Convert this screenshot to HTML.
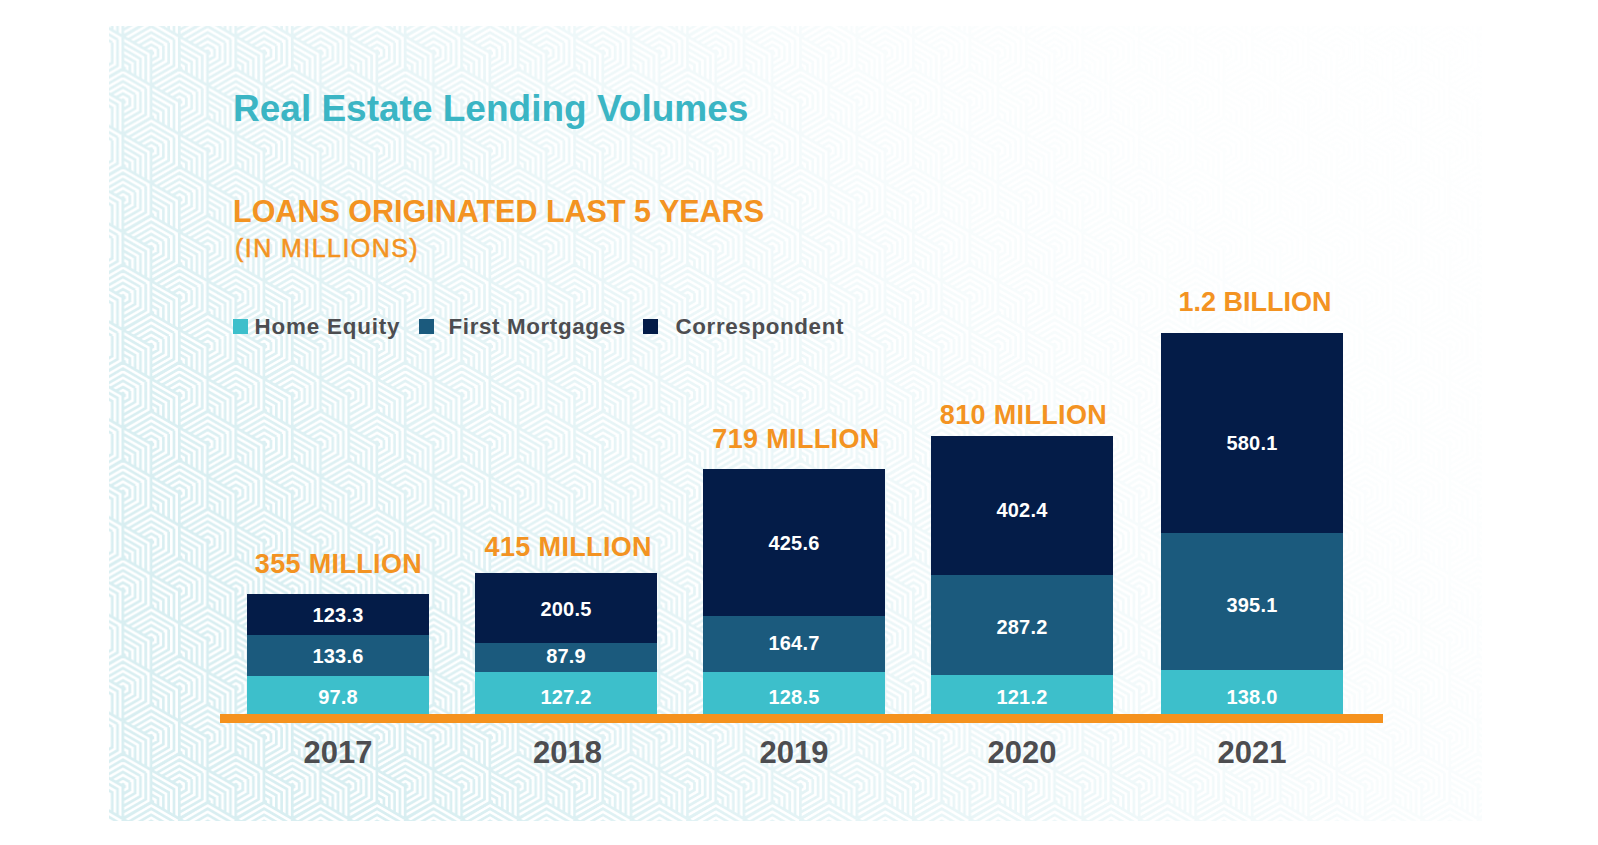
<!DOCTYPE html>
<html><head><meta charset="utf-8">
<style>
html,body{margin:0;padding:0;background:#fff;width:1598px;height:845px;overflow:hidden;position:relative;font-family:"Liberation Sans",sans-serif;}
.bg{position:absolute;left:109px;top:26px;width:1373px;height:795px;-webkit-mask-image:linear-gradient(55deg,#000 0%,#000 16%,rgba(0,0,0,.6) 43%,rgba(0,0,0,.2) 66%,rgba(0,0,0,.07) 80%,rgba(0,0,0,.03) 100%);mask-image:linear-gradient(55deg,#000 0%,#000 16%,rgba(0,0,0,.6) 43%,rgba(0,0,0,.2) 66%,rgba(0,0,0,.07) 80%,rgba(0,0,0,.03) 100%);}
.bg svg{display:block}
.t{position:absolute;white-space:nowrap;line-height:1;}
.title{left:233px;top:89.5px;font-size:37px;color:#3bb5c4;font-weight:bold;}
.sub1{left:233px;top:196px;font-size:30.5px;color:#f39322;font-weight:bold;}
.sub2{left:235px;top:235.5px;font-size:25px;letter-spacing:1.45px;-webkit-text-stroke:0.55px #f39322;color:#f39322;}
.sq{position:absolute;width:15px;height:15px;top:319px;}
.leg{top:316px;font-size:22.4px;letter-spacing:0.62px;color:#4d4d50;font-weight:bold;}
.bar{position:absolute;width:182px;}
.nv{background:#041c48;}
.md{background:#1b5a7d;}
.lt{background:#3dbfcb;}
.axis{position:absolute;left:220px;top:714px;width:1163px;height:9px;background:#f5921e;}
.tot{font-size:27px;letter-spacing:0.35px;color:#f39322;font-weight:bold;text-align:center;width:300px;}
.lab{font-size:20px;letter-spacing:0.2px;margin-top:-0.8px;color:#fff;font-weight:bold;text-align:center;width:182px;}
.yr{font-size:31px;color:#4d4d50;font-weight:bold;text-align:center;width:182px;top:736.5px;}
</style></head><body>
<div class="bg"><svg width="100%" height="100%"><defs><path id="hxhp" d="M-1.59 -0.92L0.00 -1.84L1.59 -0.92M-6.89 -3.98L0.00 -7.96L6.89 -3.98M-12.19 -7.04L0.00 -14.08L12.19 -7.04M-17.49 -10.10L0.00 -20.20L17.49 -10.10M-22.79 -13.16L0.00 -26.32L22.79 -13.16M-28.09 -16.22L0.00 -32.44L28.09 -16.22M-26.64 17.22L-26.64 15.38L-28.23 14.46M-21.34 20.28L-21.34 12.32L-28.23 8.34M-16.04 23.34L-16.04 9.26L-28.23 2.22M-10.74 26.40L-10.74 6.20L-28.23 -3.90M-5.44 29.46L-5.44 3.14L-28.23 -10.02M-0.14 32.52L-0.14 0.08L-28.23 -16.14M1.59 -0.92L1.59 0.92L0.00 1.84M6.89 -3.98L6.89 3.98L0.00 7.96M12.19 -7.04L12.19 7.04L0.00 14.08M17.49 -10.10L17.49 10.10L0.00 20.20M22.79 -13.16L22.79 13.16L0.00 26.32M28.09 -16.22L28.09 16.22L0.00 32.44" fill="none" stroke="#d8eef1" stroke-width="2.70"/><pattern id="hp" patternUnits="userSpaceOnUse" x="42.20" y="613.40" width="56.465" height="97.800"><use href="#hxhp" x="-28.23" y="-48.90"/><use href="#hxhp" x="28.23" y="-48.90"/><use href="#hxhp" x="84.70" y="-48.90"/><use href="#hxhp" x="0.00" y="0.00"/><use href="#hxhp" x="56.46" y="0.00"/><use href="#hxhp" x="-28.23" y="48.90"/><use href="#hxhp" x="28.23" y="48.90"/><use href="#hxhp" x="84.70" y="48.90"/><use href="#hxhp" x="0.00" y="97.80"/><use href="#hxhp" x="56.46" y="97.80"/><use href="#hxhp" x="-28.23" y="146.70"/><use href="#hxhp" x="28.23" y="146.70"/><use href="#hxhp" x="84.70" y="146.70"/></pattern></defs><rect width="100%" height="100%" fill="url(#hp)"/></svg></div>

<div class="t title">Real Estate Lending Volumes</div>
<div class="t sub1">LOANS ORIGINATED LAST 5 YEARS</div>
<div class="t sub2">(IN MILLIONS)</div>

<div class="sq lt" style="left:233px"></div>
<div class="t leg" style="left:254.5px;letter-spacing:0.82px">Home Equity</div>
<div class="sq md" style="left:419px"></div>
<div class="t leg" style="left:448.5px">First Mortgages</div>
<div class="sq nv" style="left:643px"></div>
<div class="t leg" style="left:675.5px">Correspondent</div>

<!-- 2017 -->
<div class="bar nv" style="left:247px;top:594px;height:41px"></div>
<div class="bar md" style="left:247px;top:635px;height:41px"></div>
<div class="bar lt" style="left:247px;top:676px;height:38px"></div>
<!-- 2018 -->
<div class="bar nv" style="left:475px;top:573px;height:70px"></div>
<div class="bar md" style="left:475px;top:643px;height:29px"></div>
<div class="bar lt" style="left:475px;top:672px;height:42px"></div>
<!-- 2019 -->
<div class="bar nv" style="left:703px;top:469px;height:147px"></div>
<div class="bar md" style="left:703px;top:616px;height:56px"></div>
<div class="bar lt" style="left:703px;top:672px;height:42px"></div>
<!-- 2020 -->
<div class="bar nv" style="left:931px;top:436px;height:139px"></div>
<div class="bar md" style="left:931px;top:575px;height:100px"></div>
<div class="bar lt" style="left:931px;top:675px;height:39px"></div>
<!-- 2021 -->
<div class="bar nv" style="left:1161px;top:333px;height:200px"></div>
<div class="bar md" style="left:1161px;top:533px;height:137px"></div>
<div class="bar lt" style="left:1161px;top:670px;height:44px"></div>

<div class="axis"></div>

<div class="t tot" style="left:188.5px;top:551px">355 MILLION</div>
<div class="t tot" style="left:418.3px;top:534px">415 MILLION</div>
<div class="t tot" style="left:646px;top:426px">719 MILLION</div>
<div class="t tot" style="left:873.5px;top:402px">810 MILLION</div>
<div class="t tot" style="left:1105px;top:289.3px;letter-spacing:0px">1.2 BILLION</div>

<div class="t lab" style="left:247px;top:606px">123.3</div>
<div class="t lab" style="left:247px;top:647px">133.6</div>
<div class="t lab" style="left:247px;top:688px">97.8</div>
<div class="t lab" style="left:475px;top:600px">200.5</div>
<div class="t lab" style="left:475px;top:647px">87.9</div>
<div class="t lab" style="left:475px;top:688px">127.2</div>
<div class="t lab" style="left:703px;top:534px">425.6</div>
<div class="t lab" style="left:703px;top:634px">164.7</div>
<div class="t lab" style="left:703px;top:688px">128.5</div>
<div class="t lab" style="left:931px;top:501px">402.4</div>
<div class="t lab" style="left:931px;top:618px">287.2</div>
<div class="t lab" style="left:931px;top:688px">121.2</div>
<div class="t lab" style="left:1161px;top:434px">580.1</div>
<div class="t lab" style="left:1161px;top:596px">395.1</div>
<div class="t lab" style="left:1161px;top:688px">138.0</div>

<div class="t yr" style="left:247px">2017</div>
<div class="t yr" style="left:476.4px">2018</div>
<div class="t yr" style="left:703px">2019</div>
<div class="t yr" style="left:931px">2020</div>
<div class="t yr" style="left:1161px">2021</div>
</body></html>
